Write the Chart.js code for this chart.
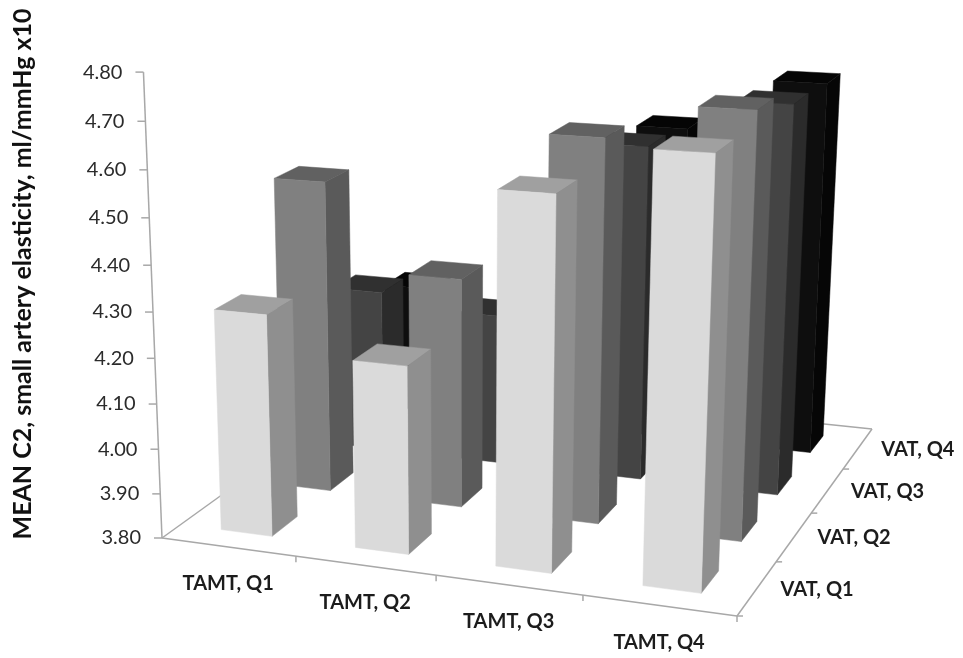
<!DOCTYPE html>
<html>
<head>
<meta charset="utf-8">
<style>
  html, body { margin: 0; padding: 0; background: #fff; }
  canvas { display: block; }
</style>
<script src="https://cdn.jsdelivr.net/npm/chart.js@4/dist/chart.umd.js"></script>
</head>
<body>
<canvas id="chart" width="963" height="658"></canvas>
<script>
const tamtLabels = ['TAMT, Q1', 'TAMT, Q2', 'TAMT, Q3', 'TAMT, Q4'];
const vatLabels = ['VAT, Q1', 'VAT, Q2', 'VAT, Q3', 'VAT, Q4'];
const yTickLabels = ['3.80', '3.90', '4.00', '4.10', '4.20', '4.30', '4.40', '4.50', '4.60', '4.70', '4.80'];
const yTitle = 'MEAN C2, small artery elasticity, ml/mmHg x10';

const vatQ1 = [4.29, 4.21, 4.59, 4.69];
const vatQ2 = [4.505, 4.315, 4.64, 4.715];
const vatQ3 = [4.18, 4.15, 4.56, 4.67];
const vatQ4 = [4.11, 4.05, 4.54, 4.66];

// floor corners on screen: left, near, right, back
const floor = [[162, 538], [737, 616], [872, 429], [384, 378]];
const barW = 0.096, barD = 0.105;
const FONT = 'Lato, "Open Sans", sans-serif';

// perspective: floor homography, plus the height axis
const [p0, p1, p2, p3] = floor;
const dx1 = p1[0] - p2[0], dx2 = p3[0] - p2[0], dx3 = p0[0] - p1[0] + p2[0] - p3[0];
const dy1 = p1[1] - p2[1], dy2 = p3[1] - p2[1], dy3 = p0[1] - p1[1] + p2[1] - p3[1];
const det = dx1 * dy2 - dx2 * dy1;
const g = (dx3 * dy2 - dx2 * dy3) / det;
const h = (dx1 * dy3 - dx3 * dy1) / det;
const hx = -26.9, hy = -470.1, hw = -0.0583;

function project(u, v, f) {
  const w = g * u + h * v + 1 + hw * f;
  return [
    ((p1[0] - p0[0] + g * p1[0]) * u + (p3[0] - p0[0] + h * p3[0]) * v + p0[0] + hx * f) / w,
    ((p1[1] - p0[1] + g * p1[1]) * u + (p3[1] - p0[1] + h * p3[1]) * v + p0[1] + hy * f) / w,
  ];
}

function poly(ctx, pts, color) {
  ctx.beginPath();
  pts.forEach((p, i) => (i ? ctx.lineTo(p[0], p[1]) : ctx.moveTo(p[0], p[1])));
  ctx.closePath();
  ctx.fillStyle = color;
  ctx.strokeStyle = color;
  ctx.lineWidth = 0.5;
  ctx.fill();
  ctx.stroke();
}

function line(ctx, a, b) {
  ctx.beginPath();
  ctx.moveTo(a[0], a[1]);
  ctx.lineTo(b[0], b[1]);
  ctx.stroke();
}

const heightOf = (scale, val) => (scale.bottom - scale.getPixelForValue(val)) / scale.height;

class Bar3dController extends Chart.BarController {
  draw() {
    const { ctx, scales } = this.chart;
    const ds = this.getDataset();
    const meta = this.getMeta();
    const v = (scales.depth.getPixelForValue(this.index) - scales.depth.left) / scales.depth.width;
    ctx.save();
    meta.data.forEach((bar, i) => {
      const u = (scales.x.getPixelForValue(i) - scales.x.left) / scales.x.width;
      const f = heightOf(scales.y, this.getParsed(i).y);
      const u0 = u - barW / 2, u1 = u + barW / 2, v0 = v - barD / 2, v1 = v + barD / 2;
      poly(ctx, [project(u0, v0, f), project(u1, v0, f), project(u1, v1, f), project(u0, v1, f)], ds.topColor);
      poly(ctx, [project(u1, v0, 0), project(u1, v1, 0), project(u1, v1, f), project(u1, v0, f)], ds.sideColor);
      poly(ctx, [project(u0, v0, 0), project(u1, v0, 0), project(u1, v0, f), project(u0, v0, f)], ds.backgroundColor);
    });
    ctx.restore();
  }
}
Bar3dController.id = 'bar3d';
Bar3dController.defaults = Chart.BarController.defaults;
Chart.register(Bar3dController);

const axes3d = {
  id: 'axes3d',
  beforeDatasetsDraw(chart) {
    const { ctx, scales } = chart;
    ctx.save();
    ctx.strokeStyle = '#a8a8a8';
    ctx.lineWidth = 1.5;
    floor.forEach((p, i) => line(ctx, p, floor[(i + 1) % 4]));
    line(ctx, project(0, 0, 0), project(0, 0, 1));

    // value axis
    ctx.textAlign = 'right';
    ctx.textBaseline = 'middle';
    ctx.font = '20px ' + FONT;
    ctx.fillStyle = '#2b2b2b';
    scales.y.ticks.forEach((t) => {
      const p = project(0, 0, heightOf(scales.y, t.value));
      line(ctx, [p[0] - 8, p[1]], p);
      ctx.fillText(t.label, p[0] - 21, p[1]);
    });

    // floor ticks and labels
    ctx.textAlign = 'center';
    ctx.font = 'bold 20px ' + FONT;
    ctx.fillStyle = '#1c1c1c';
    tamtLabels.forEach((label, i) => {
      const c = (scales.x.getPixelForValue(i) - scales.x.left) / scales.x.width;
      const m = project(c, 0, 0);
      ctx.fillText(label, m[0], m[1] + 37);
      const t = project(c + 0.125, 0, 0);
      line(ctx, t, [t[0], t[1] + 6]);
    });
    vatLabels.forEach((label, j) => {
      const c = (scales.depth.getPixelForValue(j) - scales.depth.left) / scales.depth.width;
      const m = project(1, c, 0);
      ctx.fillText(label, m[0] + 60, m[1] + 1);
      const t = project(1, c - 0.125, 0);
      line(ctx, t, [t[0] + 6, t[1]]);
    });

    // axis title
    ctx.translate(23, 274);
    ctx.rotate(-Math.PI / 2);
    ctx.font = 'bold 25px ' + FONT;
    ctx.fillStyle = '#111';
    ctx.fillText(yTitle, 0, 0);
    ctx.restore();
  },
};

new Chart(document.getElementById('chart'), {
  type: 'bar3d',
  plugins: [axes3d],
  data: {
    labels: tamtLabels,
    datasets: [
      { label: vatLabels[0], data: vatQ1, clip: false, backgroundColor: '#dadada', sideColor: '#8f8f8f', topColor: '#a0a0a0' },
      { label: vatLabels[1], data: vatQ2, clip: false, backgroundColor: '#808080', sideColor: '#5a5a5a', topColor: '#616161' },
      { label: vatLabels[2], data: vatQ3, clip: false, backgroundColor: '#444444', sideColor: '#2b2b2b', topColor: '#303030' },
      { label: vatLabels[3], data: vatQ4, clip: false, backgroundColor: '#0e0e0e', sideColor: '#060606', topColor: '#050505' },
    ],
  },
  options: {
    responsive: false,
    animation: false,
    devicePixelRatio: 1,
    layout: { padding: { top: 72, bottom: 120, left: 160, right: 90 } },
    plugins: { legend: { display: false }, tooltip: { enabled: false } },
    scales: {
      x: { display: false, offset: true },
      depth: { type: 'category', axis: 'x', labels: vatLabels, offset: true, display: false },
      y: {
        display: false,
        min: 3.8,
        max: 4.8,
        ticks: { stepSize: 0.1, callback: (val, i) => yTickLabels[i] },
      },
    },
  },
});
</script>
</body>
</html>
